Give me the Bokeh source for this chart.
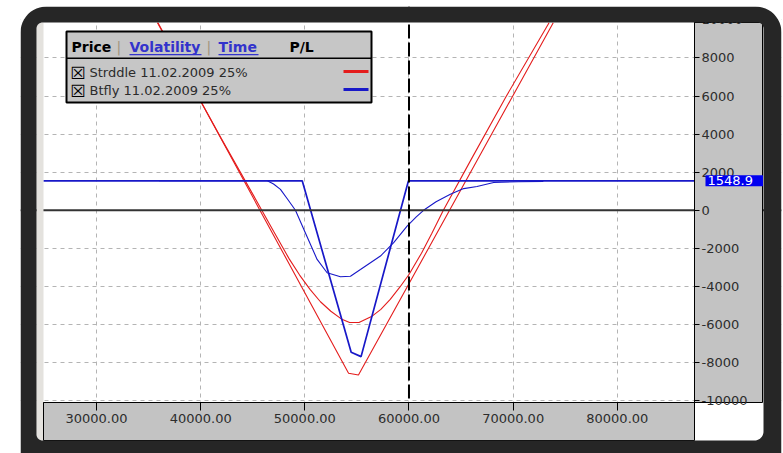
import math
from bokeh.plotting import figure
from bokeh.models import (Range1d, FixedTicker, NumeralTickFormatter, Span, Label,
                          BoxAnnotation, PolyAnnotation)
from bokeh.embed import file_html
from bokeh.resources import INLINE

# ---------------- data ----------------
x_ticks = [30000, 40000, 50000, 60000, 70000, 80000]
y_ticks = [-10000, -8000, -6000, -4000, -2000, 0, 2000, 4000, 6000, 8000, 10000]

# curves are listed from where they enter the visible area to where they leave it
straddle_exp_x = [35900, 54200, 55150, 73850]
straddle_exp_y = [9850, -8550, -8650, 9850]

straddle_now_x = [35850, 42000, 45000, 47000, 48500, 49500, 50500, 51500, 52500,
                  53500, 54300, 55200, 56400, 57300, 58200, 59100, 60000, 61200, 62200,
                  63300, 66000, 69300, 73450]
straddle_now_y = [9850, 3750, 850, -1100, -2550, -3400, -4150, -4800, -5300,
                  -5700, -5890, -5890, -5580, -5200, -4680, -4050, -3370, -2250, -1200,
                  0, 2700, 5950, 9850]

bfly_exp_x = [24900, 49750, 54450, 55400, 59950, 87400]
bfly_exp_y = [1548.9, 1548.9, -7450, -7680, 1548.9, 1548.9]

bfly_now_x = [36000, 46400, 47000, 47660, 48400, 49100, 50100, 51180, 52140, 53420,
              54380, 55340, 56300, 57260, 58530, 59820, 60700, 61400, 62600, 63970,
              65250, 66530, 68130, 70500, 72900]
bfly_now_y = [1548.9, 1548.9, 1380, 1100, 540, 0, -1240, -2580, -3280, -3490,
              -3460, -3110, -2750, -2400, -1700, -830, -350, 0, 450, 840,
              1140, 1250, 1460, 1500, 1520]

bfly_credit = 1548.9
current_price = 60000
legend_names = ["Strddle 11.02.2009 25%", "Btfly 11.02.2009 25%"]
header_items = ["Price", "|", "Volatility", "|", "Time", "P/L"]

# ---------------- geometry (page pixels) ----------------
CW, CH = 783, 453
OUT_L, OUT_T, OUT_R = 20, 6, 781              # outer edge of the dark window frame
X0_PX, X0_VAL, XK = 96.0, 30000.0, 0.010416   # px per price unit
Y0_PX, YK = 209.8, 0.01905                    # px per P/L unit
AX_L, AX_R, AX_T, AX_B = 43, 694, 22, 402     # plotting area
DARK = "#262626"
PANEL = "#c3c3c3"
RED = "#e41c1c"
BLUE = "#1818c8"
FONT = "DejaVu Sans"


def xv(px):
    return X0_VAL + (px - X0_PX) / XK


def yv(py):
    return (Y0_PX - py) / YK


# screen units are measured from the frame's left / bottom edge
def sx(px):
    return px - OUT_L


def sy(py):
    return CH - py


p = figure(width=CW, height=CH, output_backend="svg", toolbar_location=None,
           x_range=Range1d(xv(OUT_L), xv(OUT_R)), y_range=Range1d(yv(CH), yv(OUT_T)),
           y_axis_location="right", min_border=0)
p.min_border_left = OUT_L
p.min_border_right = CW - OUT_R
p.min_border_top = OUT_T
p.min_border_bottom = 0
p.border_fill_color = "white"
p.background_fill_color = "white"
p.outline_line_color = None


def box(l, r, t, b, color, level, line=None, lw=1):
    return BoxAnnotation(left=sx(l), right=sx(r), top=sy(t), bottom=sy(b),
                         left_units="screen", right_units="screen",
                         top_units="screen", bottom_units="screen",
                         fill_color=color, fill_alpha=1,
                         line_color=line, line_alpha=1, line_width=lw, level=level)


def arc(cx, cy, r, a0, a1, n=12):
    pts = []
    for i in range(n + 1):
        a = math.radians(a0 + (a1 - a0) * i / n)
        pts.append((cx + r * math.cos(a), cy - r * math.sin(a)))
    return pts


def poly(pts, color, level):
    return PolyAnnotation(xs=[sx(a) for a, b in pts], ys=[sy(b) for a, b in pts],
                          xs_units="screen", ys_units="screen",
                          fill_color=color, fill_alpha=1, line_color=None, level=level)


# ---------------- axes & grid ----------------
xax = p.xaxis[0]
yax = p.yaxis[0]
xax.ticker = FixedTicker(ticks=x_ticks)
xax.formatter = NumeralTickFormatter(format="0.00")
yax.ticker = FixedTicker(ticks=y_ticks)
yax.formatter = NumeralTickFormatter(format="0")
xax.fixed_location = yv(AX_B)
yax.fixed_location = xv(AX_R)
xax.bounds = (xv(AX_L), xv(AX_R))
yax.bounds = (yv(AX_B), yv(AX_T - 4))
for ax, tout, stand in ((xax, 8, 3), (yax, 5, 2)):
    ax.level = "annotation"
    ax.major_label_text_font = FONT
    ax.major_label_text_font_size = "13px"
    ax.major_label_text_color = "#2d2d2d"
    ax.axis_line_color = "black"
    ax.major_tick_line_color = "black"
    ax.major_tick_out = tout
    ax.major_tick_in = 0
    ax.minor_tick_line_color = None
    ax.major_label_standoff = stand

p.xgrid.ticker = FixedTicker(ticks=x_ticks)
p.ygrid.ticker = FixedTicker(ticks=y_ticks)
for g in (p.xgrid[0], p.ygrid[0]):
    g.grid_line_color = "#b4b4b4"
    g.grid_line_dash = "4 4"
    g.grid_line_width = 1

# ---------------- series ----------------
p.line(straddle_exp_x, straddle_exp_y, line_color=RED, line_width=1.1)
p.line(straddle_now_x, straddle_now_y, line_color=RED, line_width=1.1)
p.line(bfly_now_x, bfly_now_y, line_color=BLUE, line_width=1.1)
p.line(bfly_exp_x, bfly_exp_y, line_color=BLUE, line_width=1.7)

p.add_layout(Span(location=0, dimension="width", line_color="#333333", line_width=2,
                  level="glyph"))
p.add_layout(Span(location=current_price, dimension="height", line_color="black",
                  line_width=2, line_dash="14 4", level="glyph"))

# ---------------- window parts around the plotting area ----------------
p.add_layout(box(36, AX_L, AX_T, 440, "#e4e2de", "guide"))
p.add_layout(box(AX_R, 763, AX_B, 440, "white", "guide"))
p.add_layout(box(AX_R, 762, AX_T, AX_B, PANEL, "guide", line="black", lw=1))
p.add_layout(box(AX_L, AX_R, AX_B, 440, PANEL, "guide", line="black", lw=1))

# white page showing at the rounded outer corners
p.add_layout(poly([(OUT_L, OUT_T)] + arc(46, 32, 26, 90, 180), "white", "overlay"))
p.add_layout(poly([(OUT_R, OUT_T)] + arc(755, 32, 26, 0, 90), "white", "overlay"))

# dark window frame (ring with a slit)
ring = ([(OUT_L, 470), (OUT_L, 32)] + arc(46, 32, 26, 180, 90) + arc(755, 32, 26, 90, 0)
        + [(OUT_R, 470), (400, 470), (400, 440)]
        + arc(754, 431, 9, 270, 360) + arc(757, 28, 6, 0, 90)
        + arc(42, 28, 6, 90, 180) + arc(42, 434, 6, 180, 270)
        + [(400, 440), (400, 470)])
p.add_layout(poly(ring, DARK, "overlay"))

p.add_layout(Label(x=sx(705), y=bfly_credit, x_units="screen", y_units="data",
                   text=f"{bfly_credit}", text_color="white", text_font=FONT,
                   text_font_size="13px", text_baseline="middle", text_align="left",
                   background_fill_color="#0000f0", background_fill_alpha=1,
                   padding=dict(left=2, right=10, top=1, bottom=1), level="overlay"))

# ---------------- legend panel ----------------
p.add_layout(box(66, 371, 31, 102, "#c6c6c6", "annotation", line="black", lw=2))
p.add_layout(box(66, 371, 57, 58.5, "black", "annotation"))

hx = [71, 116, 129, 206, 218, 289]
hcol = ["black", "#a0947e", "#3333cc", "#a0947e", "#3333cc", "black"]
hbold = ["bold", "normal", "bold", "normal", "bold", "bold"]
for t, x0, c, b in zip(header_items, hx, hcol, hbold):
    p.add_layout(Label(x=sx(x0), y=sy(46.5), x_units="screen", y_units="screen", text=t,
                       text_color=c, text_font=FONT, text_font_style=b,
                       text_font_size="14px", text_baseline="middle", text_align="left"))
p.add_layout(box(129, 201, 53.5, 54.8, "#3333cc", "annotation"))
p.add_layout(box(218, 258, 53.5, 54.8, "#3333cc", "annotation"))

for name, yc, col in zip(legend_names, [72, 90], [RED, BLUE]):
    p.add_layout(Label(x=sx(70), y=sy(yc), x_units="screen", y_units="screen", text="\u2612",
                       text_color="black", text_font=FONT, text_font_size="17px",
                       text_baseline="middle", text_align="left"))
    p.add_layout(Label(x=sx(89), y=sy(yc), x_units="screen", y_units="screen", text=name,
                       text_color="#2b2b2b", text_font=FONT, text_font_size="13px",
                       text_baseline="middle", text_align="left"))
    p.add_layout(box(343, 368, yc - 2.5, yc + 0.5, col, "annotation"))

open("out.html", "w").write(file_html(p, INLINE))
